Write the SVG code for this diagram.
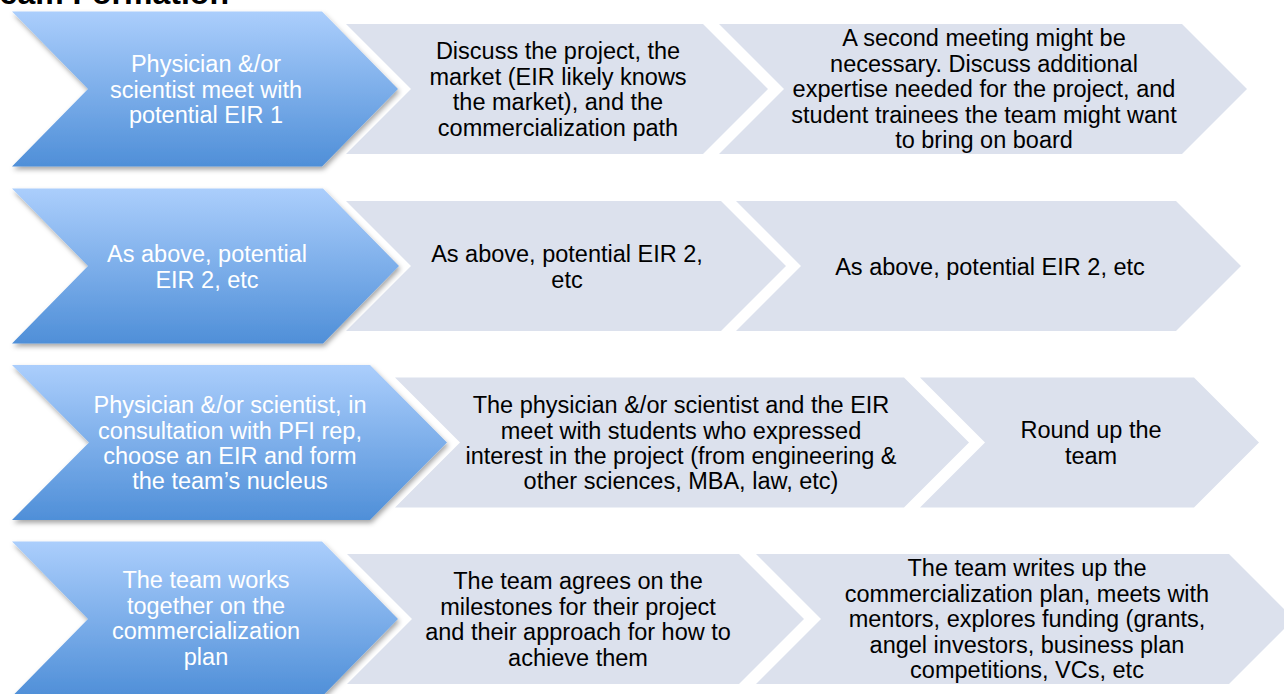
<svg xmlns="http://www.w3.org/2000/svg" width="1284" height="694" viewBox="0 0 1284 694">
<defs>
<linearGradient id="blueGrad" x1="0" y1="0" x2="0" y2="1">
<stop offset="0" stop-color="#abcefc"/>
<stop offset="1" stop-color="#4f8fd8"/>
</linearGradient>
<filter id="shadow" x="-10%" y="-10%" width="125%" height="130%">
<feDropShadow dx="1.5" dy="3" stdDeviation="2.5" flood-color="#000" flood-opacity="0.35"/>
</filter>
<style>
.blue{fill:url(#blueGrad);filter:url(#shadow);}
.gray{fill:#dce1ed;}
text{font-family:"Liberation Sans",Arial,Helvetica,sans-serif;font-size:23.5px;text-anchor:middle;}
.wt{fill:#ffffff;}
.bt{fill:#000000;}
.title{font-size:32px;font-weight:bold;text-anchor:start;fill:#000;}
</style>
</defs>
<rect width="1284" height="694" fill="#ffffff"/>
<text class="title" x="-17.6" y="4">Team Formation</text>

<g id="connectors"></g>

<!-- Row 1 -->
<g id="r1-step2"><polygon class="gray" points="346,24 703,24 768,89 703,154 346,154 411,89"/>
<text class="bt"><tspan x="558" y="59">Discuss the project, the</tspan><tspan x="558" y="85">market (EIR likely knows</tspan><tspan x="558" y="110">the market), and the</tspan><tspan x="558" y="136">commercialization path</tspan></text></g>
<g id="r1-step3"><polygon class="gray" points="719,24 1182,24 1247,89 1182,154 719,154 784,89"/>
<text class="bt"><tspan x="984" y="46">A second meeting might be</tspan><tspan x="984" y="72">necessary. Discuss additional</tspan><tspan x="984" y="97">expertise needed for the project, and</tspan><tspan x="984" y="123">student trainees the team might want</tspan><tspan x="984" y="148">to bring on board</tspan></text></g>
<g id="r1-step1"><polygon class="blue" points="12,11.5 322,11.5 398,89 322,166.5 12,166.5 88,89"/>
<text class="wt"><tspan x="206" y="72">Physician &amp;/or</tspan><tspan x="206" y="98">scientist meet with</tspan><tspan x="206" y="123">potential EIR 1</tspan></text></g>

<!-- Row 2 -->
<g id="r2-step2"><polygon class="gray" points="346,201 721,201 786,266 721,331 346,331 411,266"/>
<text class="bt"><tspan x="567" y="262">As above, potential EIR 2,</tspan><tspan x="567" y="288">etc</tspan></text></g>
<g id="r2-step3"><polygon class="gray" points="736,201 1176,201 1241,266 1176,331 736,331 801,266"/>
<text class="bt"><tspan x="990" y="275">As above, potential EIR 2, etc</tspan></text></g>
<g id="r2-step1"><polygon class="blue" points="12,188.5 323,188.5 399,266 323,343.5 12,343.5 88,266"/>
<text class="wt"><tspan x="207" y="262">As above, potential</tspan><tspan x="207" y="288">EIR 2, etc</tspan></text></g>

<!-- Row 3 -->
<g id="r3-step2"><polygon class="gray" points="395,377.5 904,377.5 969,442.5 904,507.5 395,507.5 460,442.5"/>
<text class="bt"><tspan x="681" y="413">The physician &amp;/or scientist and the EIR</tspan><tspan x="681" y="439">meet with students who expressed</tspan><tspan x="681" y="464">interest in the project (from engineering &amp;</tspan><tspan x="681" y="489">other sciences, MBA, law, etc)</tspan></text></g>
<g id="r3-step3"><polygon class="gray" points="920,377.5 1194,377.5 1259,442.5 1194,507.5 920,507.5 985,442.5"/>
<text class="bt"><tspan x="1091" y="438">Round up the</tspan><tspan x="1091" y="464">team</tspan></text></g>
<g id="r3-step1"><polygon class="blue" points="12,365 370,365 447,442.5 370,520 12,520 89,442.5"/>
<text class="wt"><tspan x="230" y="413">Physician &amp;/or scientist, in</tspan><tspan x="230" y="439">consultation with PFI rep,</tspan><tspan x="230" y="464">choose an EIR and form</tspan><tspan x="230" y="489">the team’s nucleus</tspan></text></g>

<!-- Row 4 -->
<g id="r4-step2"><polygon class="gray" points="347,554 739,554 804,619 739,684 347,684 412,619"/>
<text class="bt"><tspan x="578" y="589">The team agrees on the</tspan><tspan x="578" y="615">milestones for their project</tspan><tspan x="578" y="640">and their approach for how to</tspan><tspan x="578" y="666">achieve them</tspan></text></g>
<g id="r4-step3"><polygon class="gray" points="756,554 1229,554 1294,619 1229,684 756,684 821,619"/>
<text class="bt"><tspan x="1027" y="576">The team writes up the</tspan><tspan x="1027" y="602">commercialization plan, meets with</tspan><tspan x="1027" y="627">mentors, explores funding (grants,</tspan><tspan x="1027" y="653">angel investors, business plan</tspan><tspan x="1027" y="678">competitions, VCs, etc</tspan></text></g>
<g id="r4-step1"><polygon class="blue" points="12,541.5 322,541.5 398,619 322,696.5 12,696.5 88,619"/>
<text class="wt"><tspan x="206" y="588">The team works</tspan><tspan x="206" y="614">together on the</tspan><tspan x="206" y="639">commercialization</tspan><tspan x="206" y="665">plan</tspan></text></g>
</svg>
